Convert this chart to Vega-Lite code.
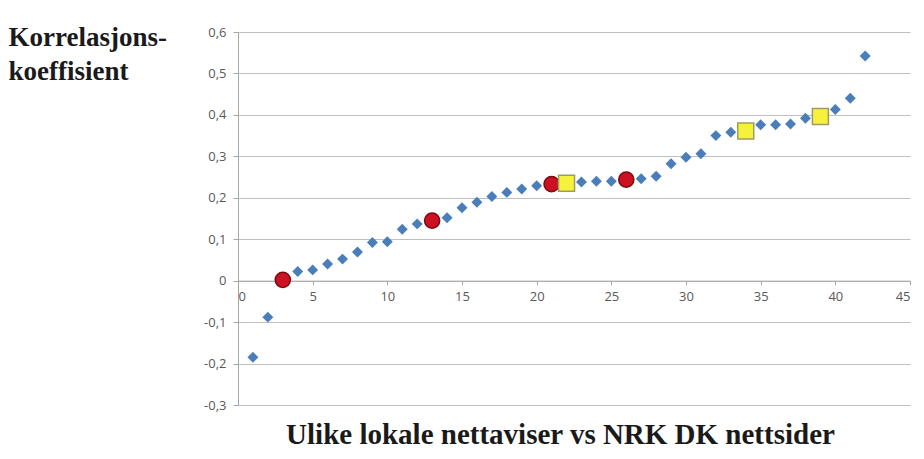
{
  "$schema": "https://vega.github.io/schema/vega-lite/v6.json",
  "width": 672,
  "height": 373,
  "autosize": "none",
  "padding": {"left": 238, "top": 32, "right": 14, "bottom": 54},
  "background": "white",
  "config": {"view": {"stroke": null}},
  "data": {
    "values": [
      {"nr": 1, "r": -0.185, "gruppe": "blå"},
      {"nr": 2, "r": -0.088, "gruppe": "blå"},
      {"nr": 3, "r": 0.002, "gruppe": "rød"},
      {"nr": 4, "r": 0.022, "gruppe": "blå"},
      {"nr": 5, "r": 0.026, "gruppe": "blå"},
      {"nr": 6, "r": 0.04, "gruppe": "blå"},
      {"nr": 7, "r": 0.052, "gruppe": "blå"},
      {"nr": 8, "r": 0.069, "gruppe": "blå"},
      {"nr": 9, "r": 0.092, "gruppe": "blå"},
      {"nr": 10, "r": 0.094, "gruppe": "blå"},
      {"nr": 11, "r": 0.124, "gruppe": "blå"},
      {"nr": 12, "r": 0.137, "gruppe": "blå"},
      {"nr": 13, "r": 0.145, "gruppe": "rød"},
      {"nr": 14, "r": 0.152, "gruppe": "blå"},
      {"nr": 15, "r": 0.176, "gruppe": "blå"},
      {"nr": 16, "r": 0.189, "gruppe": "blå"},
      {"nr": 17, "r": 0.203, "gruppe": "blå"},
      {"nr": 18, "r": 0.213, "gruppe": "blå"},
      {"nr": 19, "r": 0.221, "gruppe": "blå"},
      {"nr": 20, "r": 0.229, "gruppe": "blå"},
      {"nr": 21, "r": 0.233, "gruppe": "rød"},
      {"nr": 22, "r": 0.235, "gruppe": "gul"},
      {"nr": 23, "r": 0.238, "gruppe": "blå"},
      {"nr": 24, "r": 0.24, "gruppe": "blå"},
      {"nr": 25, "r": 0.24, "gruppe": "blå"},
      {"nr": 26, "r": 0.244, "gruppe": "rød"},
      {"nr": 27, "r": 0.246, "gruppe": "blå"},
      {"nr": 28, "r": 0.252, "gruppe": "blå"},
      {"nr": 29, "r": 0.282, "gruppe": "blå"},
      {"nr": 30, "r": 0.298, "gruppe": "blå"},
      {"nr": 31, "r": 0.306, "gruppe": "blå"},
      {"nr": 32, "r": 0.35, "gruppe": "blå"},
      {"nr": 33, "r": 0.358, "gruppe": "blå"},
      {"nr": 34, "r": 0.361, "gruppe": "gul"},
      {"nr": 35, "r": 0.376, "gruppe": "blå"},
      {"nr": 36, "r": 0.376, "gruppe": "blå"},
      {"nr": 37, "r": 0.378, "gruppe": "blå"},
      {"nr": 38, "r": 0.392, "gruppe": "blå"},
      {"nr": 39, "r": 0.396, "gruppe": "gul"},
      {"nr": 40, "r": 0.413, "gruppe": "blå"},
      {"nr": 41, "r": 0.44, "gruppe": "blå"},
      {"nr": 42, "r": 0.542, "gruppe": "blå"}
    ]
  },
  "encoding": {
    "x": {
      "field": "nr",
      "type": "quantitative",
      "scale": {"domain": [0, 45], "nice": false, "zero": false},
      "axis": {
        "values": [0, 5, 10, 15, 20, 25, 30, 35, 40, 45],
        "offset": -124.33,
        "grid": false,
        "domainColor": "#a6a6a6",
        "tickColor": "#a6a6a6",
        "tickSize": 4,
        "labelPadding": 6,
        "labelFont": "Open Sans",
        "labelFontSize": 13,
        "labelColor": "#595959",
        "title": "Ulike lokale nettaviser vs NRK DK nettsider",
        "titleFont": "Liberation Serif",
        "titleFontSize": 29,
        "titleFontWeight": "bold",
        "titleColor": "#1a1a1a",
        "titleX": 322,
        "titleY": 163,
        "titleBaseline": "alphabetic",
        "titleAnchor": null,
        "titleAlign": "center"
      }
    },
    "y": {
      "field": "r",
      "type": "quantitative",
      "scale": {"domain": [-0.3, 0.6], "nice": false, "zero": false},
      "axis": {
        "values": [-0.3, -0.2, -0.1, 0, 0.1, 0.2, 0.3, 0.4, 0.5, 0.6],
        "labelExpr": "datum.value == 0 ? '0' : replace(replace(format(datum.value, '.1f'), '.', ','), '\u2212', '-')",
        "grid": true,
        "gridColor": "#bfbfbf",
        "gridWidth": 1.2,
        "domainColor": "#a6a6a6",
        "tickColor": "#a6a6a6",
        "tickSize": 5,
        "labelPadding": 7,
        "labelFont": "Open Sans",
        "labelFontSize": 13,
        "labelColor": "#595959",
        "title": ["Korrelasjons-", "koeffisient"],
        "titleFont": "Liberation Serif",
        "titleFontSize": 27,
        "titleFontWeight": "bold",
        "titleColor": "#1a1a1a",
        "titleAngle": 0,
        "titleAlign": "left",
        "titleBaseline": "alphabetic",
        "titleAnchor": null,
        "titleX": -230,
        "titleY": 13,
        "titleLineHeight": 34
      }
    }
  },
  "layer": [
    {
      "transform": [{"filter": "datum.gruppe == 'blå'"}],
      "mark": {"type": "point", "shape": "diamond", "filled": true, "size": 120, "color": "#4a7ebb", "opacity": 1}
    },
    {
      "transform": [{"filter": "datum.gruppe == 'rød'"}],
      "mark": {"type": "point", "shape": "circle", "filled": true, "size": 230, "fill": "#cc1122", "stroke": "#7a0a12", "strokeWidth": 1.5, "opacity": 1}
    },
    {
      "transform": [{"filter": "datum.gruppe == 'gul'"}],
      "mark": {"type": "point", "shape": "square", "filled": true, "size": 256, "fill": "#f6f23c", "stroke": "#a09a6a", "strokeWidth": 1.5, "opacity": 1}
    }
  ]
}
